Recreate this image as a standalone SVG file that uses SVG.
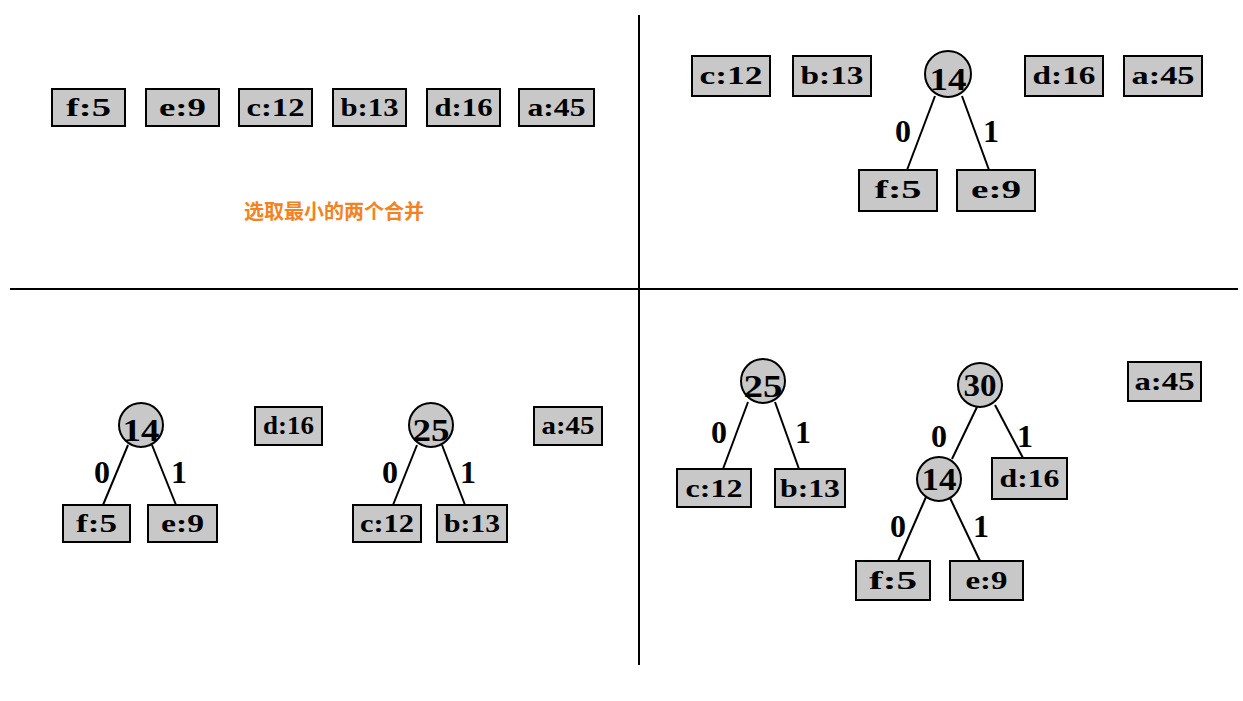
<svg xmlns="http://www.w3.org/2000/svg" width="1243" height="701" viewBox="0 0 1243 701">
<style>
.n rect, .n circle { fill:#c8c8c8; stroke:#000; stroke-width:2; }
.t { font-family:"Liberation Serif","Times New Roman",serif; font-weight:bold; font-size:25px; text-anchor:middle; fill:#000; }
.c { font-size:31px; }
.e { font-family:"Liberation Serif","Times New Roman",serif; font-weight:bold; font-size:32px; text-anchor:middle; fill:#000; }
.cn line { stroke:#000; stroke-width:2; }
.div line { stroke:#000; stroke-width:2; }
.note { font-family:"Noto Sans CJK SC","Noto Sans",sans-serif; font-weight:bold; font-size:20px; text-anchor:middle; fill:#f58220; }
</style>
<rect width="1243" height="701" fill="#fff"/>
<g class="div">
<line x1="639" y1="15" x2="639" y2="665"/>
<line x1="10" y1="289" x2="1238" y2="289"/>
</g>

<!-- Top-left -->
<g id="tl-f5" class="n"><rect x="52" y="89" width="73" height="37"/><text class="t" x="88.5" y="116" textLength="45" lengthAdjust="spacingAndGlyphs">f:5</text></g>
<g id="tl-e9" class="n"><rect x="146" y="89" width="73" height="37"/><text class="t" x="182.5" y="116" textLength="47" lengthAdjust="spacingAndGlyphs">e:9</text></g>
<g id="tl-c12" class="n"><rect x="239" y="89" width="73" height="37"/><text class="t" x="275.5" y="116" textLength="58" lengthAdjust="spacingAndGlyphs">c:12</text></g>
<g id="tl-b13" class="n"><rect x="333" y="89" width="73" height="37"/><text class="t" x="369.5" y="116" textLength="58" lengthAdjust="spacingAndGlyphs">b:13</text></g>
<g id="tl-d16" class="n"><rect x="427" y="89" width="73" height="37"/><text class="t" x="463.5" y="116" textLength="58" lengthAdjust="spacingAndGlyphs">d:16</text></g>
<g id="tl-a45" class="n"><rect x="519" y="89" width="75" height="37"/><text class="t" x="556.5" y="116" textLength="58" lengthAdjust="spacingAndGlyphs">a:45</text></g>
<g id="tl-note"><text class="note" x="334" y="219">选取最小的两个合并</text></g>

<!-- Top-right -->
<g id="tr-c12" class="n"><rect x="692" y="56" width="78" height="40"/><text class="t" x="731" y="84" textLength="63" lengthAdjust="spacingAndGlyphs">c:12</text></g>
<g id="tr-b13" class="n"><rect x="793" y="56" width="78" height="40"/><text class="t" x="832" y="84" textLength="63" lengthAdjust="spacingAndGlyphs">b:13</text></g>
<g id="tr-n14" class="n"><circle cx="948" cy="74" r="23"/><text class="t c" x="948" y="90" textLength="37" lengthAdjust="spacingAndGlyphs">14</text></g>
<g id="tr-d16" class="n"><rect x="1025" y="56" width="78" height="40"/><text class="t" x="1064" y="84" textLength="63" lengthAdjust="spacingAndGlyphs">d:16</text></g>
<g id="tr-a45" class="n"><rect x="1124" y="56" width="78" height="40"/><text class="t" x="1163" y="84" textLength="63" lengthAdjust="spacingAndGlyphs">a:45</text></g>
<g id="tr-f5" class="n"><rect x="859" y="170" width="78" height="41"/><text class="t" x="898" y="198" textLength="47" lengthAdjust="spacingAndGlyphs">f:5</text></g>
<g id="tr-e9" class="n"><rect x="957" y="170" width="78" height="41"/><text class="t" x="996" y="198" textLength="50" lengthAdjust="spacingAndGlyphs">e:9</text></g>

<!-- Bottom-left -->
<g id="bl-n14" class="n"><circle cx="141" cy="425" r="22"/><text class="t c" x="141" y="441" textLength="37" lengthAdjust="spacingAndGlyphs">14</text></g>
<g id="bl-d16" class="n"><rect x="255" y="407" width="67" height="38"/><text class="t" x="288.5" y="434" textLength="51" lengthAdjust="spacingAndGlyphs">d:16</text></g>
<g id="bl-f5" class="n"><rect x="63" y="505" width="67" height="37"/><text class="t" x="96.5" y="532" textLength="41" lengthAdjust="spacingAndGlyphs">f:5</text></g>
<g id="bl-e9" class="n"><rect x="148" y="505" width="69" height="37"/><text class="t" x="182.5" y="532" textLength="43" lengthAdjust="spacingAndGlyphs">e:9</text></g>
<g id="bl-n25" class="n"><circle cx="431" cy="425" r="22"/><text class="t c" x="431" y="441" textLength="37" lengthAdjust="spacingAndGlyphs">25</text></g>
<g id="bl-a45" class="n"><rect x="534" y="407" width="68" height="38"/><text class="t" x="568" y="434" textLength="53" lengthAdjust="spacingAndGlyphs">a:45</text></g>
<g id="bl-c12" class="n"><rect x="353" y="505" width="68" height="37"/><text class="t" x="387" y="532" textLength="54" lengthAdjust="spacingAndGlyphs">c:12</text></g>
<g id="bl-b13" class="n"><rect x="437" y="505" width="70" height="37"/><text class="t" x="472" y="532" textLength="56" lengthAdjust="spacingAndGlyphs">b:13</text></g>

<!-- Bottom-right -->
<g id="br-n25" class="n"><circle cx="763" cy="381" r="22"/><text class="t c" x="763" y="397" textLength="39" lengthAdjust="spacingAndGlyphs">25</text></g>
<g id="br-c12" class="n"><rect x="677" y="469" width="74" height="38"/><text class="t" x="714" y="497" textLength="57" lengthAdjust="spacingAndGlyphs">c:12</text></g>
<g id="br-b13" class="n"><rect x="775" y="469" width="70" height="38"/><text class="t" x="810" y="497" textLength="60" lengthAdjust="spacingAndGlyphs">b:13</text></g>
<g id="br-n30" class="n"><circle cx="980" cy="385" r="22"/><text class="t c" x="980" y="396" textLength="33" lengthAdjust="spacingAndGlyphs">30</text></g>
<g id="br-n14" class="n"><circle cx="939" cy="479" r="22"/><text class="t c" x="939" y="490" textLength="35" lengthAdjust="spacingAndGlyphs">14</text></g>
<g id="br-d16" class="n"><rect x="992" y="458" width="75" height="41"/><text class="t" x="1029.5" y="487" textLength="60" lengthAdjust="spacingAndGlyphs">d:16</text></g>
<g id="br-a45" class="n"><rect x="1128" y="362" width="73" height="39"/><text class="t" x="1164.5" y="390" textLength="60" lengthAdjust="spacingAndGlyphs">a:45</text></g>
<g id="br-f5" class="n"><rect x="856" y="561" width="74" height="39"/><text class="t" x="893" y="589" textLength="48" lengthAdjust="spacingAndGlyphs">f:5</text></g>
<g id="br-e9" class="n"><rect x="950" y="561" width="73" height="39"/><text class="t" x="986.5" y="589" textLength="42" lengthAdjust="spacingAndGlyphs">e:9</text></g>

<g id="connectors" class="cn">
<line x1="935" y1="96" x2="907" y2="170"/>
<line x1="962" y1="96" x2="989" y2="170"/>
<line x1="128" y1="445" x2="103" y2="505"/>
<line x1="152" y1="445" x2="176" y2="505"/>
<line x1="417" y1="445" x2="393" y2="505"/>
<line x1="442" y1="445" x2="465" y2="505"/>
<line x1="748" y1="402" x2="723" y2="469"/>
<line x1="775" y1="402" x2="799" y2="469"/>
<line x1="977" y1="407" x2="952" y2="459"/>
<line x1="995" y1="405" x2="1023" y2="458"/>
<line x1="926" y1="497" x2="898" y2="561"/>
<line x1="950" y1="498" x2="980" y2="561"/>
<text class="e" x="903" y="142">0</text>
<text class="e" x="991" y="142">1</text>
<text class="e" x="102" y="483">0</text>
<text class="e" x="179" y="483">1</text>
<text class="e" x="390" y="483">0</text>
<text class="e" x="468" y="483">1</text>
<text class="e" x="719" y="443">0</text>
<text class="e" x="803" y="443">1</text>
<text class="e" x="939" y="447">0</text>
<text class="e" x="1025" y="447">1</text>
<text class="e" x="898" y="537">0</text>
<text class="e" x="981" y="537">1</text>
</g>
</svg>
